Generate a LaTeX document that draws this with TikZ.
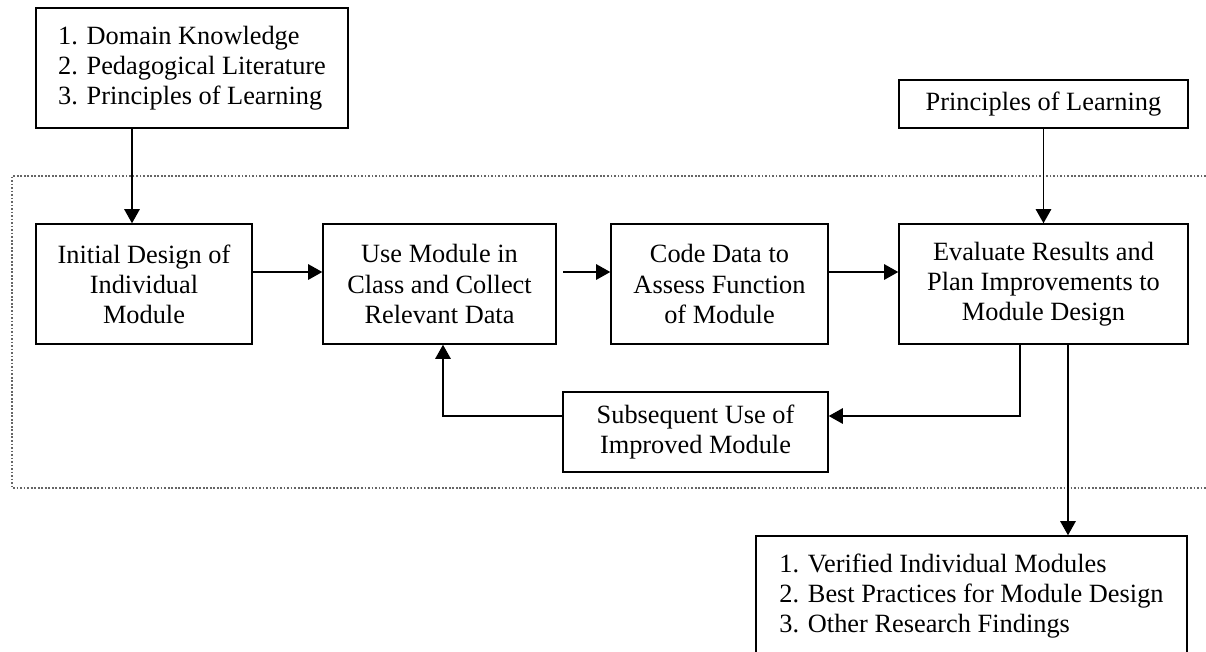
\documentclass[tikz,border=0pt]{standalone}
\usepackage{fontspec}
\setmainfont{Liberation Serif}
\usetikzlibrary{arrows.meta}

\begin{document}
\begin{tikzpicture}[->,>={Triangle[length=6.4pt,width=7pt]},line width=0.7pt,
	x=0.016cm,y=-0.016cm,
	main node/.style={rectangle,draw,align=center,inner sep=2pt,minimum height=1.92cm,
		font=\fontsize{12}{13.7}\selectfont},
	list node/.style={main node,align=left}]
	
	\useasboundingbox (0,0) rectangle (1206,651);
	\draw[-,line width=0.5pt,black!60,dash pattern=on 0.8pt off 0.8pt]
	(1206,176) -- (12,176) -- (12,488) -- (1206,488);
	
	\node[list node,minimum width=4.992cm] (0) at (192,68) {1. Domain Knowledge\\2. Pedagogical Literature\\3. Principles of Learning};
	\node[main node,minimum width=3.456cm] (1) at (144,284) {Initial Design of\\Individual\\Module};
	\node[main node,minimum width=3.728cm] (2) at (439.5,284) {Use Module in\\Class and Collect\\Relevant Data};
	\node[main node,minimum width=3.472cm] (3) at (719.5,284) {Code Data to\\Assess Function\\of Module};
	\node[main node,minimum width=4.624cm] (4) at (1043.5,284) {Evaluate Results and\\Plan Improvements to\\Module Design};
	\node[main node,minimum width=4.624cm,minimum height=0.768cm] (5) at (1043.5,104) {Principles of Learning};
	\node[main node,minimum width=4.24cm,minimum height=1.28cm] (6) at (695.5,432) {Subsequent Use of\\Improved Module};
	\node[list node,minimum width=6.896cm] (7) at (971.5,596) {1. Verified Individual Modules\\2. Best Practices for Module Design\\3. Other Research Findings};
	
	\coordinate (c0) at (132,0);
	\coordinate (c1) at (0,272);
	\coordinate (c2) at (443,416);
	\coordinate (c3) at (1020,416);
	\coordinate (c4) at (1068,0);
	
	\path (0.south -| c0) edge (1.north -| c0)
	(1.east |- c1) edge (2.west |- c1)
	(2.east |- c1) edge[shorten <=3pt] (3.west |- c1)
	(3.east |- c1) edge (4.west |- c1)
	(5) edge (4)
	(4.south -| c4) edge (7.north -| c4);
	\draw (4.south -| c3) |- (6.east |- c3);
	\draw (6.west |- c2) -| (2.south -| c2);
\end{tikzpicture}
\end{document}
